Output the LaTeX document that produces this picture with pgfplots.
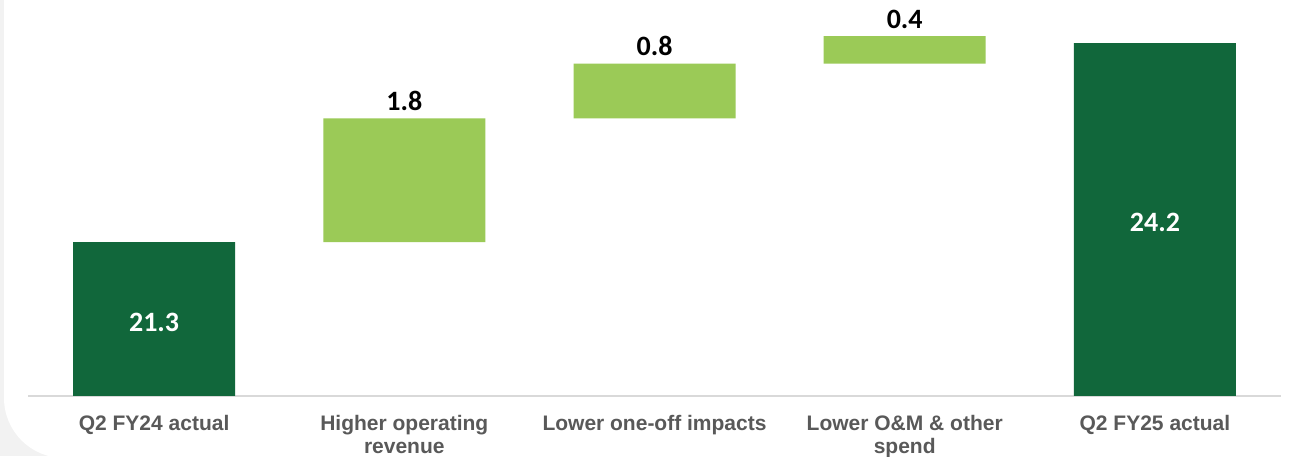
\documentclass[border=0pt]{standalone}
\usepackage{fontspec}
\usepackage{pgfplots}
\pgfplotsset{compat=1.18}
\setmainfont{Liberation Sans}
\newfontfamily\calibri{Carlito}
\definecolor{darkgreen}{HTML}{11673B}
\definecolor{lightgreen}{HTML}{9BCA57}
\definecolor{axisgray}{HTML}{D9D9D9}
\definecolor{labelgray}{HTML}{595959}
\definecolor{bggray}{HTML}{F2F2F2}

\begin{document}
\begin{tikzpicture}
% slide background with a rounded white panel
\path[use as bounding box, fill=bggray] (0,0) rectangle (644.5pt,228pt);
\fill[white, rounded corners=30pt] (2pt,-1pt) rectangle (700pt,260pt);
\tikzset{vlab/.style={font={\calibri\fontsize{14}{16}\selectfont\bfseries}}}
\begin{axis}[
  at={(14pt,30pt)}, anchor=south west,
  scale only axis, width=626.5pt, height=198pt,
  xmin=-0.504, xmax=4.504, ymin=19.056, ymax=24.827,
  axis y line=none, axis x line*=bottom,
  x axis line style={draw=axisgray, line width=1pt, -},
  xtick={0,1,2,3,4}, major tick length=0pt,
  xticklabels={Q2 FY24 actual, {Higher operating\\revenue}, Lower one-off impacts, {Lower O\&M \& other\\spend}, Q2 FY25 actual},
  xticklabel style={anchor=north, inner sep=0pt, yshift=-9.5pt, align=center,
    font=\fontsize{10.5}{11.5}\selectfont\bfseries, text=labelgray},
  ybar stacked, bar width=81pt,
]
% totals
\addplot[fill=darkgreen, draw=none] coordinates {(0,21.3) (1,0) (2,0) (3,0) (4,24.2)};
% running base of the bridge (invisible)
\addplot[fill=none, draw=none] coordinates {(0,0) (1,21.3) (2,23.1) (3,23.9) (4,0)};
% increments
\addplot[fill=lightgreen, draw=none] coordinates {(0,0) (1,1.8) (2,0.8) (3,0.4) (4,0)};

\coordinate (t0) at (axis cs:0,20.134);
\coordinate (t4) at (axis cs:4,21.592);
\coordinate (t1) at (axis cs:1,23.1);
\coordinate (t2) at (axis cs:2,23.9);
\coordinate (t3) at (axis cs:3,24.3);
\end{axis}
% value labels on top of the bars
\node[vlab, text=white] at (t0) {21.3};
\node[vlab, text=white] at (t4) {24.2};
\node[vlab, anchor=base, yshift=4pt] at (t1) {1.8};
\node[vlab, anchor=base, yshift=4pt] at (t2) {0.8};
\node[vlab, anchor=base, yshift=4pt] at (t3) {0.4};
\end{tikzpicture}
\end{document}
